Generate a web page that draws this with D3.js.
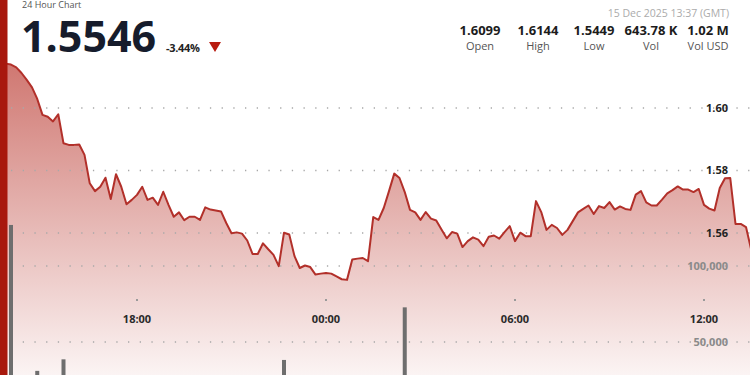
<!DOCTYPE html>
<html>
<head>
<meta charset="utf-8">
<script src="https://cdn.jsdelivr.net/npm/d3@7"></script>
<style>
  html, body { margin: 0; padding: 0; background: #fff; }
  svg { display: block; font-family: "Open Sans", sans-serif; }
</style>
</head>
<body>
<svg id="chart" width="750" height="375"></svg>
<script>
// 10 minute points, first one at 14 Dec 13:40 GMT
const startTime = new Date(Date.UTC(2025, 11, 14, 13, 40));
const stepMinutes = 10;

const prices = [
  1.6144, 1.6142, 1.6139, 1.6130, 1.6112, 1.6090, 1.6066, 1.6029, 1.5978, 1.5972, 1.5957, 1.5980,
  1.5887, 1.5882, 1.5882, 1.5883, 1.5850, 1.5759, 1.5734, 1.5748, 1.5777, 1.5709, 1.5788, 1.5748,
  1.5692, 1.5706, 1.5722, 1.5748, 1.5706, 1.5713, 1.5690, 1.5732, 1.5690, 1.5652, 1.5666, 1.5641,
  1.5652, 1.5652, 1.5642, 1.5682, 1.5675, 1.5672, 1.5669, 1.5632, 1.5599, 1.5602, 1.5598, 1.5576,
  1.5533, 1.5533, 1.5567, 1.5548, 1.5530, 1.5494, 1.5601, 1.5595, 1.5526, 1.5488, 1.5496, 1.5491,
  1.5467, 1.5470, 1.5472, 1.5470, 1.5461, 1.5452, 1.5450, 1.5515, 1.5518, 1.5520, 1.5510, 1.5651,
  1.5642, 1.5680, 1.5734, 1.5790, 1.5776, 1.5731, 1.5674, 1.5666, 1.5642, 1.5667, 1.5646, 1.5640,
  1.5611, 1.5583, 1.5603, 1.5598, 1.5555, 1.5574, 1.5586, 1.5579, 1.5558, 1.5588, 1.5592, 1.5582,
  1.5603, 1.5622, 1.5574, 1.5601, 1.5590, 1.5590, 1.5702, 1.5667, 1.5610, 1.5626, 1.5616, 1.5594,
  1.5610, 1.5638, 1.5666, 1.5677, 1.5688, 1.5661, 1.5686, 1.5680, 1.5699, 1.5675, 1.5685, 1.5677,
  1.5674, 1.5723, 1.5734, 1.5698, 1.5688, 1.5688, 1.5707, 1.5727, 1.5737, 1.5749, 1.5739, 1.5739,
  1.5731, 1.5741, 1.5690, 1.5678, 1.5672, 1.5744, 1.5775, 1.5776, 1.5629, 1.5629, 1.5619, 1.5546
];

const volumes = [
  4200, 3100, 127000, 8400, 6200, 5100, 7300, 31000, 9800, 4600, 3900, 5200,
  38600, 6100, 2400, 1800, 7900, 14200, 6800, 3300, 4100, 9200, 5600, 3800,
  6300, 2900, 2100, 3400, 4800, 1900, 3600, 4400, 2700, 5900, 2300, 3100,
  1600, 1400, 2200, 4700, 1800, 1300, 1500, 3900, 5400, 1700, 1200, 2600,
  6100, 1900, 2800, 1600, 2400, 8700, 38200, 4300, 7200, 5600, 2100, 1700,
  3800, 1500, 1200, 1400, 2300, 2900, 1800, 6400, 1600, 1300, 2500, 16800,
  4900, 7600, 11200, 13900, 6100, 72800, 9400, 3200, 4500, 2800, 2200, 1900,
  3700, 5100, 2400, 1800, 4600, 2700, 1900, 1500, 3100, 2600, 1400, 1700,
  2300, 2900, 4200, 2100, 1600, 1800, 12400, 5300, 6200, 2400, 1900, 3300,
  1700, 2800, 3600, 2500, 1900, 3400, 2200, 1600, 2700, 2900, 1800, 1500,
  1700, 4800, 3500, 2600, 1900, 1400, 2300, 2800, 2100, 2600, 1700, 1300,
  1600, 1900, 4400, 2700, 2300, 6900, 8200, 3100, 14600, 4100, 2900, 9800
];

const priceTicks = [1.56, 1.58, 1.60];
const volumeTicks = [50000, 100000];
const timeTicks = [
  new Date(Date.UTC(2025, 11, 14, 18, 0)),
  new Date(Date.UTC(2025, 11, 15, 0, 0)),
  new Date(Date.UTC(2025, 11, 15, 6, 0)),
  new Date(Date.UTC(2025, 11, 15, 12, 0))
];

const statValues = ['1.6099', '1.6144', '1.5449', '643.78 K', '1.02 M'];
const statLabels = ['Open', 'High', 'Low', 'Vol', 'Vol USD'];
const lastPrice = '1.5546';
const changeText = '-3.44%';
const stampText = '15 Dec 2025 13:37 (GMT)';
const titleText = '24 Hour Chart';

const width = 750, height = 375;
const data = prices.map((p, i) => ({
  date: new Date(startTime.getTime() + i * stepMinutes * 60000),
  price: p,
  vol: volumes[i]
}));

const x = d3.scaleUtc().domain([timeTicks[0], timeTicks[3]]).range([137, 704]);
const y = d3.scaleLinear().domain([1.56, 1.60]).range([233, 108]);
const yVol = d3.scaleLinear().domain([50000, 100000]).range([342, 266]);

const svg = d3.select('#chart');

const defs = svg.append('defs');
const grad = defs.append('linearGradient')
  .attr('id', 'fillGrad')
  .attr('gradientUnits', 'userSpaceOnUse')
  .attr('x1', 0).attr('x2', 0)
  .attr('y1', 60).attr('y2', height);
grad.append('stop').attr('offset', '0%').attr('stop-color', '#b22218').attr('stop-opacity', 0.62);
grad.append('stop').attr('offset', '100%').attr('stop-color', '#b22218').attr('stop-opacity', 0.05);

// area under price
svg.append('path')
  .datum(data)
  .attr('fill', 'url(#fillGrad)')
  .attr('d', d3.area()
    .x(d => x(d.date))
    .y0(height)
    .y1(d => y(d.price)));

// dotted grid
const gridYs = priceTicks.map(v => y(v)).concat(volumeTicks.map(v => yVol(v)));
svg.append('g')
  .selectAll('line')
  .data(gridYs)
  .join('line')
  .attr('x1', 11).attr('x2', width)
  .attr('y1', d => d).attr('y2', d => d)
  .attr('stroke', '#a8a8a8')
  .attr('stroke-width', 1.3)
  .attr('stroke-dasharray', '1.3,10.4');

// price line
svg.append('path')
  .datum(data)
  .attr('fill', 'none')
  .attr('stroke', '#b2302a')
  .attr('stroke-width', 2)
  .attr('stroke-linejoin', 'round')
  .attr('d', d3.line()
    .x(d => x(d.date))
    .y(d => y(d.price)));

// volume bars
svg.append('g')
  .selectAll('rect')
  .data(data)
  .join('rect')
  .attr('x', d => x(d.date) - 2)
  .attr('width', 4)
  .attr('y', d => yVol(d.vol))
  .attr('height', d => yVol(0) - yVol(d.vol))
  .attr('fill', '#6e6e6e');

// axis labels
svg.append('g')
  .selectAll('text')
  .data(priceTicks)
  .join('text')
  .attr('x', 728)
  .attr('y', d => y(d))
  .attr('dy', '0.36em')
  .attr('text-anchor', 'end')
  .attr('font-size', 11)
  .attr('font-weight', 700)
  .attr('fill', '#222')
  .text(d => d3.format('.2f')(d));

svg.append('g')
  .selectAll('text')
  .data(volumeTicks)
  .join('text')
  .attr('x', 728)
  .attr('y', d => yVol(d))
  .attr('dy', '0.36em')
  .attr('text-anchor', 'end')
  .attr('font-size', 11)
  .attr('font-weight', 700)
  .attr('fill', '#8a8a8a')
  .text(d => d3.format(',')(d));

const timeAxis = svg.append('g');
timeAxis.selectAll('rect')
  .data(timeTicks)
  .join('rect')
  .attr('x', d => x(d) - 1).attr('y', 299)
  .attr('width', 2).attr('height', 2)
  .attr('fill', '#9a9a9a');
timeAxis.selectAll('text')
  .data(timeTicks)
  .join('text')
  .attr('x', d => x(d))
  .attr('y', 323)
  .attr('text-anchor', 'middle')
  .attr('font-size', 11)
  .attr('font-weight', 700)
  .attr('fill', '#2a2a2a')
  .text(d => d3.utcFormat('%H:%M')(d));

// header
svg.append('text')
  .attr('x', 22).attr('y', 8)
  .attr('font-size', 9)
  .attr('fill', '#555')
  .text(titleText);

svg.append('text')
  .attr('x', 21).attr('y', 52)
  .attr('font-size', 43)
  .attr('font-weight', 700)
  .attr('fill', '#161c2c')
  .text(lastPrice);

svg.append('text')
  .attr('x', 166).attr('y', 52)
  .attr('font-size', 11)
  .attr('font-weight', 700)
  .attr('fill', '#222')
  .attr('letter-spacing', -0.3)
  .text(changeText);

svg.append('path')
  .attr('d', 'M209,42 L221,42 L215,52 Z')
  .attr('fill', '#b81c10');

svg.append('text')
  .attr('x', 729).attr('y', 17)
  .attr('text-anchor', 'end')
  .attr('font-size', 10.5)
  .attr('fill', '#ababab')
  .text(stampText);

const statX = [480, 538, 594, 651, 708];
const stats = svg.append('g');
stats.selectAll('text.val')
  .data(statValues)
  .join('text')
  .attr('class', 'val')
  .attr('x', (d, i) => statX[i]).attr('y', 35)
  .attr('text-anchor', 'middle')
  .attr('font-size', 13)
  .attr('font-weight', 700)
  .attr('fill', '#1c1c1c')
  .text(d => d);
stats.selectAll('text.lab')
  .data(statLabels)
  .join('text')
  .attr('class', 'lab')
  .attr('x', (d, i) => statX[i]).attr('y', 50)
  .attr('text-anchor', 'middle')
  .attr('font-size', 11)
  .attr('fill', '#555')
  .text(d => d);

// red side bar
svg.append('rect')
  .attr('x', 0).attr('y', 0)
  .attr('width', 7.5).attr('height', height)
  .attr('fill', '#a8180d');
</script>
</body>
</html>
